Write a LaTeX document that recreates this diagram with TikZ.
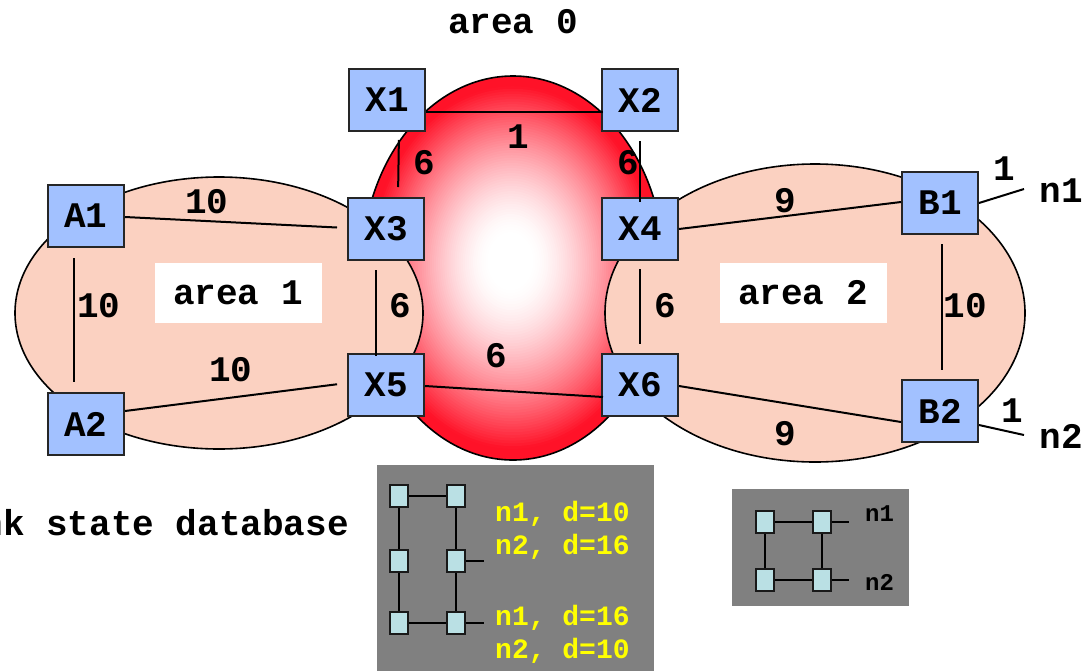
\documentclass[tikz,border=0pt]{standalone}
\usepackage{fontspec}
\setmainfont{Liberation Mono}
\definecolor{boxblue}{RGB}{162,193,255}
\definecolor{pinkarea}{RGB}{251,209,193}
\definecolor{ballred}{RGB}{255,18,40}
\definecolor{sqcyan}{RGB}{186,224,228}
\definecolor{dbgray}{RGB}{128,128,128}
\definecolor{dbyellow}{RGB}{255,255,0}
\tikzset{
  router/.style={draw=black!85, line width=2pt, fill=boxblue, minimum width=76pt, minimum height=62pt, inner sep=0pt, font=\fontsize{36}{36}\selectfont\bfseries},
  lbl/.style={inner sep=0pt, font=\fontsize{36}{36}\selectfont\bfseries},
  conn/.style={line width=2pt, black},
  arealbl/.style={fill=white, minimum width=167pt, minimum height=60pt, inner sep=0pt, font=\fontsize{36}{36}\selectfont\bfseries},
  sq/.style={draw=black!90, line width=1.6pt, fill=sqcyan, minimum width=18pt, minimum height=22pt, inner sep=0pt},
  sqline/.style={line width=2pt, black},
  dbtxt/.style={inner sep=0pt, anchor=west, text=dbyellow, font=\fontsize{28}{28}\selectfont\bfseries},
  dbtxtb/.style={inner sep=0pt, anchor=west, text=black, font=\fontsize{24}{24}\selectfont\bfseries},
}
\begin{document}
\begin{tikzpicture}[x=1pt,y=-1pt]
\useasboundingbox (0,0) rectangle (1084,670);
\clip (0,0) rectangle (1084,670);
% area 0: radial gradient built from concentric ellipses
\foreach \i in {0,...,71} {
  \pgfmathsetmacro\f{1-\i/72}
  \pgfmathsetmacro\p{100*pow(max(0.001,min(1,(\f-0.15)/0.8)),1.5)}
  \pgfmathsetmacro\cx{513-3*(1-\f)}
  \pgfmathsetmacro\cy{268-8*(1-\f)}
  \fill[ballred!\p!white] (\cx,\cy) ellipse [x radius=151*\f, y radius=192*\f];
}
\draw[line width=1.6pt] (513,268) ellipse [x radius=151, y radius=192];
\draw[line width=1.6pt, fill=pinkarea] (219,313) ellipse [x radius=204, y radius=136];
\draw[line width=1.6pt, fill=pinkarea] (815,313) ellipse [x radius=210, y radius=149];
\node[arealbl] (ar1) at (238,293) {area 1};
\node[arealbl] (ar2) at (803,293) {area 2};
\node[lbl] (ar0) at (513,22) {area 0};
% routers
\node[router] (A1) at (86,216) {A1};
\node[router] (A2) at (86,424) {A2};
\node[router] (X1) at (387,100) {X1};
\node[router] (X2) at (640,100) {X2};
\node[router] (X3) at (386,229) {X3};
\node[router] (X4) at (640,229) {X4};
\node[router] (X5) at (386,385) {X5};
\node[router] (X6) at (640,385) {X6};
\node[router] (B1) at (940,203) {B1};
\node[router] (B2) at (940,411) {B2};
\coordinate (n1end) at (1024,189);
\coordinate (n2end) at (1024,435);
% links
\draw[conn] ([yshift=-12pt]X1.east) -- ([yshift=-12pt,xshift=2pt]X2.west);
\draw[conn, shorten <=8pt, shorten >=10pt] ([xshift=12pt]X1.south) -- ([xshift=12pt]X3.north);
\draw[conn, shorten <=9pt, shorten >=-5pt] (X2.south) -- (X4.north);
\draw[conn, shorten <=9pt, shorten >=-3pt] ([xshift=-10pt]X3.south) -- ([xshift=-10pt]X5.north);
\draw[conn, shorten <=8pt, shorten >=9pt] (X4.south) -- (X6.north);
\draw[conn] ([yshift=-1pt]X5.east) -- ([yshift=-12pt,xshift=2pt]X6.west);
\draw[conn, shorten >=10pt] ([yshift=-1pt]A1.east) -- ([yshift=1pt]X3.west);
\draw[conn, shorten >=10pt] ([yshift=13pt]A2.east) -- ([yshift=2pt]X5.west);
\draw[conn, shorten <=10pt, shorten >=10pt] ([xshift=-12pt]A1.south) -- ([xshift=-12pt]A2.north);
\draw[conn] (X4.east) -- ([yshift=1pt]B1.west);
\draw[conn] ([yshift=-1pt]X6.east) -- ([yshift=-11pt]B2.west);
\draw[conn, shorten <=9pt, shorten >=9pt] ([xshift=2pt]B1.south) -- ([xshift=2pt]B2.north);
\draw[conn] (B1.east) -- (n1end);
\draw[conn] ([yshift=-14pt]B2.east) -- (n2end);
% link labels
\node[lbl] (l12) at (518,137) {1};
\node[lbl] (l13) at (424,163) {6};
\node[lbl] (l24) at (628,163) {6};
\node[lbl] (l35) at (400,306) {6};
\node[lbl] (l46) at (665,306) {6};
\node[lbl] (l56) at (496,356) {6};
\node[lbl] (la13) at (207,202) {10};
\node[lbl] (la25) at (231,370) {10};
\node[lbl] (la12) at (99,306) {10};
\node[lbl] (lb41) at (785,201) {9};
\node[lbl] (lb62) at (785,434) {9};
\node[lbl] (lb12) at (965,306) {10};
\node[lbl] (lbn1) at (1004,169) {1};
\node[lbl] (lbn2) at (1012,411) {1};
\node[lbl] (tn1) at (1061,191) {n1};
\node[lbl] (tn2) at (1061,436) {n2};
% link state database
\node[lbl, anchor=east] (lsd) at (349,523) {link state database};
\fill[dbgray] (377,465) rectangle (654,680);
\fill[dbgray] (732,489) rectangle (909,606);
% database 1
\node[sq] (p11) at (399,496) {};
\node[sq] (p12) at (456,496) {};
\node[sq] (p21) at (399,561) {};
\node[sq] (p22) at (456,561) {};
\node[sq] (p31) at (399,623) {};
\node[sq] (p32) at (456,623) {};
\coordinate (s1) at (484,561);
\coordinate (s2) at (484,623);
\draw[sqline] (p11) -- (p12);
\draw[sqline] (p31) -- (p32);
\draw[sqline] (p11) -- (p21);
\draw[sqline] (p21) -- (p31);
\draw[sqline] (p12) -- (p22);
\draw[sqline] (p22) -- (p32);
\draw[sqline] (p22.east) -- (s1);
\draw[sqline] (p32.east) -- (s2);
\node[dbtxt] (d1) at (495,514) {n1, d=10};
\node[dbtxt] (d2) at (495,547) {n2, d=16};
\node[dbtxt] (d3) at (495,618) {n1, d=16};
\node[dbtxt] (d4) at (495,651) {n2, d=10};
% database 2
\node[sq] (q11) at (765,522) {};
\node[sq] (q12) at (822,522) {};
\node[sq] (q21) at (765,580) {};
\node[sq] (q22) at (822,580) {};
\coordinate (t1) at (849,522);
\coordinate (t2) at (849,580);
\draw[sqline] (q11) -- (q12);
\draw[sqline] (q21) -- (q22);
\draw[sqline] (q11) -- (q21);
\draw[sqline] (q12) -- (q22);
\draw[sqline] (q12.east) -- (t1);
\draw[sqline] (q22.east) -- (t2);
\node[dbtxtb] (e1) at (865,514) {n1};
\node[dbtxtb] (e2) at (865,582) {n2};
\end{tikzpicture}
\end{document}
